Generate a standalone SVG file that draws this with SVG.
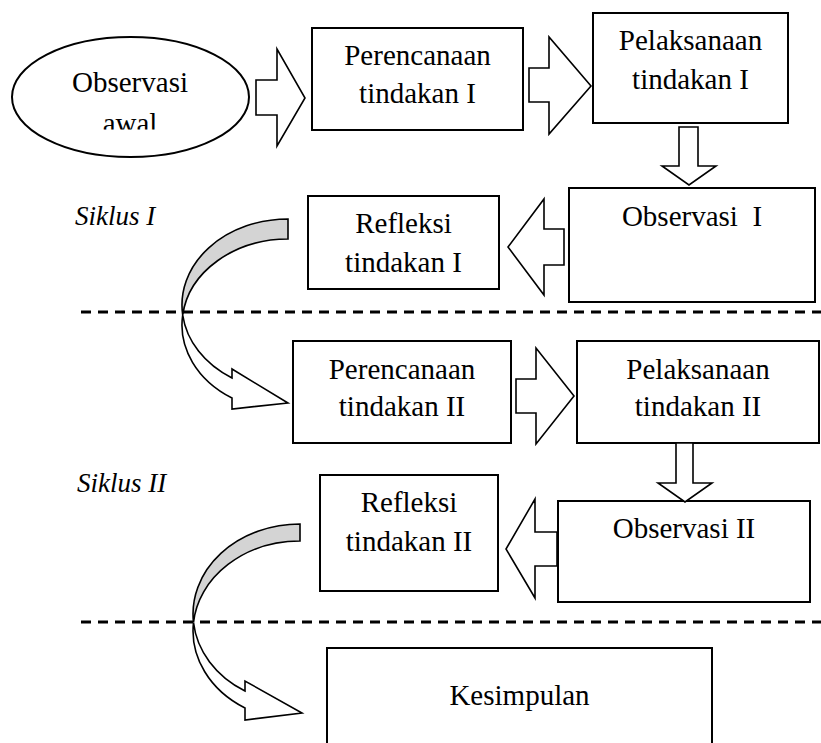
<svg xmlns="http://www.w3.org/2000/svg" width="821" height="743" viewBox="0 0 821 743">
<style>
  .box { fill: #ffffff; stroke: #000000; stroke-width: 2; }
  .t { font-family: "Liberation Serif", "Times New Roman", serif; font-size: 29px; fill: #000000; text-anchor: middle; }
  .it { font-family: "Liberation Serif", "Times New Roman", serif; font-size: 27px; font-style: italic; fill: #000000; }
  .blk { fill: #ffffff; stroke: #000000; stroke-width: 1.6; stroke-linejoin: miter; }
  .back { fill: #d4d4d4; stroke: #000000; stroke-width: 1.6; }
  .front { fill: #ffffff; stroke: #000000; stroke-width: 1.6; }
  .dash { stroke: #000000; stroke-width: 3; stroke-dasharray: 10 7; fill: none; }
</style>
<defs>
  <clipPath id="ellClip"><rect x="0" y="0" width="300" height="129.5"/></clipPath>
</defs>
<rect x="0" y="0" width="821" height="743" fill="#ffffff"/>

<g id="separators">
  <line class="dash" x1="81" y1="312" x2="821" y2="312"/>
  <line class="dash" x1="81" y1="622" x2="821" y2="622"/>
</g>

<g id="label-siklus1"><text class="it" x="75" y="225">Siklus I</text></g>
<g id="label-siklus2"><text class="it" x="77" y="492">Siklus II</text></g>

<g id="obs-awal">
  <ellipse cx="130.5" cy="97" rx="118.5" ry="60" fill="#ffffff" stroke="#000000" stroke-width="2"/>
  <g clip-path="url(#ellClip)">
    <text class="t" x="130" y="92">Observasi</text>
    <text class="t" x="130" y="133">awal</text>
  </g>
</g>

<g id="perencanaan1">
  <rect class="box" x="312" y="28" width="211" height="102"/>
  <text class="t" x="417.5" y="65">Perencanaan</text>
  <text class="t" x="417.5" y="103">tindakan I</text>
</g>

<g id="pelaksanaan1">
  <rect class="box" x="593" y="13" width="195" height="110"/>
  <text class="t" x="690.5" y="50">Pelaksanaan</text>
  <text class="t" x="690.5" y="89">tindakan I</text>
</g>

<g id="observasi1">
  <rect class="box" x="569" y="188" width="246" height="114"/>
  <text class="t" x="692" y="226">Observasi&#160; I</text>
</g>

<g id="refleksi1">
  <rect class="box" x="308" y="196" width="191" height="93"/>
  <text class="t" x="403.5" y="233">Refleksi</text>
  <text class="t" x="403.5" y="272">tindakan I</text>
</g>

<g id="perencanaan2">
  <rect class="box" x="293" y="341" width="218" height="102"/>
  <text class="t" x="402" y="379">Perencanaan</text>
  <text class="t" x="402" y="416">tindakan II</text>
</g>

<g id="pelaksanaan2">
  <rect class="box" x="577" y="341" width="242" height="102"/>
  <text class="t" x="698" y="379">Pelaksanaan</text>
  <text class="t" x="698" y="416">tindakan II</text>
</g>

<g id="observasi2">
  <rect class="box" x="558" y="501" width="252" height="101"/>
  <text class="t" x="684" y="538">Observasi II</text>
</g>

<g id="refleksi2">
  <rect class="box" x="320" y="475" width="178" height="116"/>
  <text class="t" x="409" y="512">Refleksi</text>
  <text class="t" x="409" y="551">tindakan II</text>
</g>

<g id="kesimpulan">
  <rect class="box" x="327" y="648" width="385" height="110"/>
  <text class="t" x="519.5" y="705">Kesimpulan</text>
</g>

<g id="connectors">
  <polygon class="blk" points="256,80 277,80 277,49 305,98 277,146 277,115 256,115"/>
  <polygon class="blk" points="529,68 549,68 549,37 591,86 549,134 549,102 529,102"/>
  <polygon class="blk" points="679,127 698,127 698,166 716,166 689,185 662,166 679,166"/>
  <polygon class="blk" points="564,229 544,229 544,199 508,247 544,295 544,265 564,265"/>
  <polygon class="blk" points="516,379 536,379 536,348 574,396 536,444 536,413 516,413"/>
  <polygon class="blk" points="676,443 693,443 693,483 712,483 685,502 658,483 676,483"/>
  <polygon class="blk" points="557,532 535,532 535,499 506,549 535,598 535,566 557,566"/>

  <path class="back" d="M288,219 A106,86 0 0 0 182.7,315 A106,86 0 0 1 288,239 Z"/>
  <path class="front" d="M182.7,315 A106,86 0 0 0 232,398 L232,409 L288,403 L232,369 L232,378 A106,86 0 0 1 182.7,315 Z"/>

  <path class="back" d="M300,524 A107,90 0 0 0 193.5,622.5 A107,90 0 0 1 300,541 Z"/>
  <path class="front" d="M193.5,622.5 A107,90 0 0 0 245,708 L245,720 L302,713 L245,681 L245,691 A107,90 0 0 1 193.5,622.5 Z"/>
</g>
</svg>
